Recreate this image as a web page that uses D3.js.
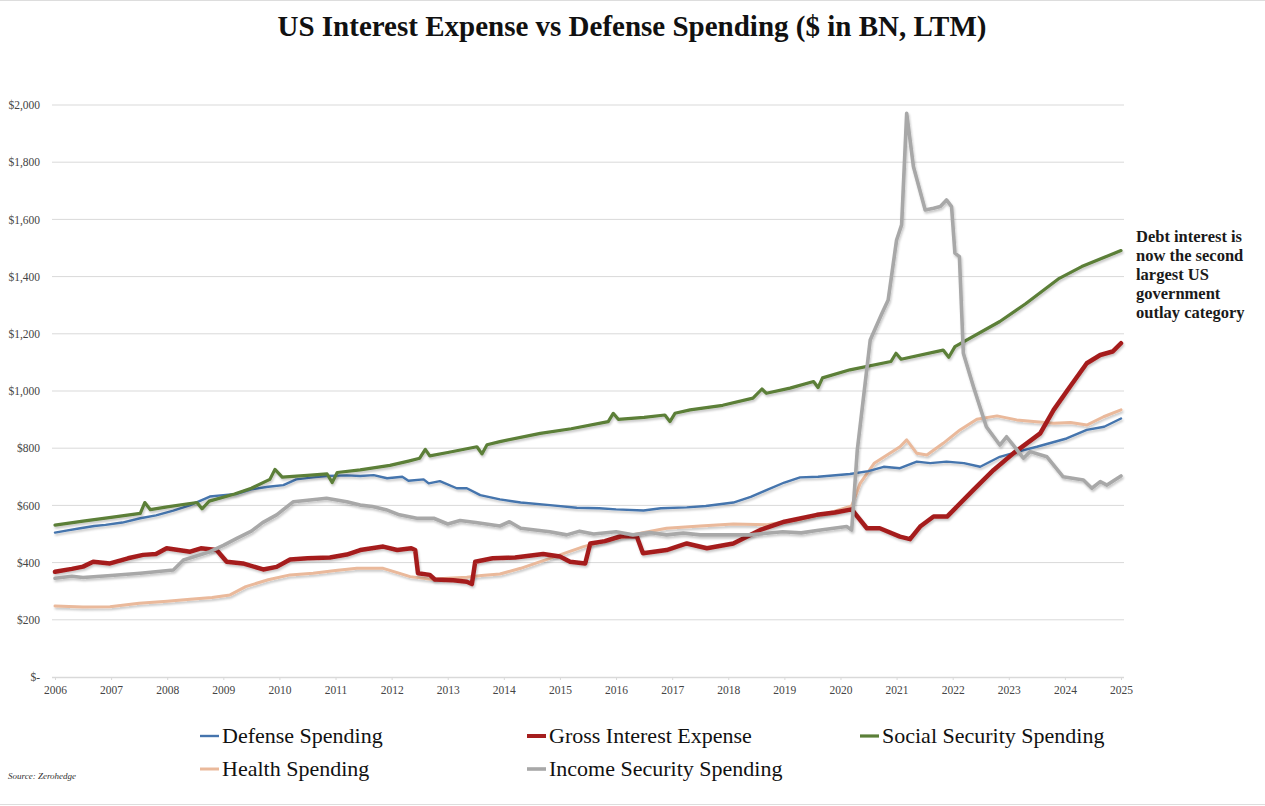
<!DOCTYPE html>
<html>
<head>
<meta charset="utf-8">
<script src="https://cdn.jsdelivr.net/npm/d3@7"></script>
<style>
    body { margin: 0; background: #fff; }
    svg { display: block; font-family: "Liberation Serif", "DejaVu Serif", serif; }
</style>
</head>
<body>
<svg id="chart" width="1265" height="806"></svg>
<script>
// Valeurs ([année, $ BN])
const defenseSpending = [
    [2006.0, 505], [2006.2, 512], [2006.45, 520], [2006.7, 528], [2006.9, 532], [2007.2, 540],
    [2007.52, 555], [2007.8, 565], [2008.11, 582], [2008.4, 600], [2008.76, 631], [2009.0, 636],
    [2009.24, 640], [2009.5, 656], [2009.8, 665], [2010.07, 671], [2010.3, 691], [2010.6, 698],
    [2010.84, 703], [2011.2, 705], [2011.44, 703], [2011.68, 706], [2011.92, 695], [2012.19, 700],
    [2012.3, 686], [2012.57, 691], [2012.66, 677], [2012.86, 685], [2013.16, 660], [2013.34, 660],
    [2013.58, 636], [2013.93, 621], [2014.3, 610], [2014.82, 601], [2015.3, 592], [2015.7, 590],
    [2016.0, 586], [2016.49, 582], [2016.8, 590], [2017.26, 593], [2017.6, 598], [2018.09, 610],
    [2018.4, 630], [2018.69, 654], [2019.0, 680], [2019.28, 698], [2019.6, 700], [2020.17, 710],
    [2020.5, 720], [2020.77, 735], [2021.06, 730], [2021.36, 753], [2021.6, 748], [2021.89, 753],
    [2022.2, 748], [2022.49, 735], [2022.84, 770], [2023.2, 790], [2023.5, 805], [2024.03, 834],
    [2024.39, 864], [2024.7, 875], [2025.0, 904]
]

const grossInterestExpense = [
    [2006.0, 368], [2006.3, 378], [2006.5, 386], [2006.68, 403], [2006.98, 397], [2007.3, 415],
    [2007.57, 427], [2007.8, 430], [2007.99, 450], [2008.2, 444], [2008.41, 438], [2008.6, 450],
    [2008.88, 444], [2009.06, 403], [2009.35, 397], [2009.71, 376], [2009.95, 385], [2010.19, 411],
    [2010.5, 415], [2010.9, 418], [2011.2, 428], [2011.44, 444], [2011.85, 456], [2012.1, 444],
    [2012.35, 450], [2012.42, 444], [2012.47, 363], [2012.68, 357], [2012.77, 341], [2013.1, 338],
    [2013.34, 333], [2013.43, 325], [2013.49, 403], [2013.8, 415], [2014.2, 418], [2014.7, 430],
    [2015.0, 421], [2015.18, 403], [2015.45, 397], [2015.54, 467], [2015.8, 475], [2016.1, 493],
    [2016.37, 491], [2016.48, 433], [2016.9, 444], [2017.26, 467], [2017.62, 450], [2018.09, 467],
    [2018.57, 514], [2019.0, 543], [2019.58, 567], [2019.9, 575], [2020.2, 586], [2020.47, 520],
    [2020.7, 520], [2021.06, 491], [2021.24, 482], [2021.42, 526], [2021.66, 561], [2021.9, 561],
    [2022.37, 654], [2022.73, 724], [2023.08, 782], [2023.32, 817], [2023.56, 852], [2023.8, 934],
    [2024.09, 1015], [2024.39, 1097], [2024.63, 1126], [2024.85, 1138], [2025.0, 1167]
]

const socialSecuritySpending = [
    [2006.0, 531], [2006.5, 545], [2007.0, 558], [2007.52, 572], [2007.6, 610], [2007.7, 585],
    [2008.0, 595], [2008.53, 610], [2008.62, 588], [2008.75, 615], [2009.2, 640], [2009.5, 660],
    [2009.83, 691], [2009.92, 726], [2010.05, 699], [2010.5, 705], [2010.85, 710], [2010.94, 680],
    [2011.03, 715], [2011.44, 724], [2011.97, 740], [2012.3, 755], [2012.5, 765], [2012.6, 796],
    [2012.68, 773], [2013.0, 785], [2013.52, 805], [2013.61, 780], [2013.7, 812], [2013.93, 823],
    [2014.65, 852], [2015.2, 868], [2015.86, 893], [2015.95, 922], [2016.04, 901], [2016.5, 908],
    [2016.87, 916], [2016.96, 893], [2017.05, 922], [2017.32, 934], [2017.9, 950], [2018.44, 975],
    [2018.6, 1007], [2018.68, 992], [2019.1, 1010], [2019.52, 1033], [2019.6, 1012], [2019.68, 1046],
    [2020.17, 1074], [2020.9, 1103], [2020.99, 1132], [2021.08, 1111], [2021.83, 1143], [2021.93, 1118],
    [2022.04, 1155], [2022.84, 1243], [2023.3, 1305], [2023.9, 1394], [2024.3, 1435], [2025.0, 1491]
]

const healthSpending = [
    [2006.0, 248], [2006.5, 245], [2006.98, 246], [2007.5, 258], [2008.0, 265], [2008.41, 272],
    [2008.8, 278], [2009.12, 287], [2009.4, 316], [2009.8, 340], [2010.19, 357], [2010.6, 363],
    [2011.0, 372], [2011.38, 380], [2011.85, 380], [2012.1, 365], [2012.33, 351], [2012.7, 342],
    [2013.0, 345], [2013.34, 349], [2013.6, 355], [2013.93, 360], [2014.3, 380], [2014.82, 415],
    [2015.42, 456], [2016.01, 485], [2016.5, 505], [2016.9, 520], [2017.5, 528], [2018.09, 535],
    [2018.69, 532], [2019.28, 551], [2019.87, 578], [2020.2, 598], [2020.35, 677], [2020.6, 747],
    [2021.06, 805], [2021.18, 829], [2021.36, 782], [2021.54, 776], [2021.83, 817], [2022.13, 864],
    [2022.43, 901], [2022.79, 913], [2023.14, 899], [2023.44, 893], [2023.8, 887], [2024.1, 890],
    [2024.39, 881], [2024.69, 910], [2025.0, 934]
]

const incomeSecuritySpending = [
    [2006.0, 345], [2006.3, 352], [2006.5, 348], [2007.0, 355], [2007.52, 363], [2008.11, 374],
    [2008.29, 409], [2008.76, 438], [2009.0, 460], [2009.24, 485], [2009.5, 510], [2009.7, 540],
    [2009.95, 567], [2010.25, 613], [2010.84, 625], [2011.2, 613], [2011.44, 601], [2011.66, 596],
    [2011.9, 585], [2012.14, 567], [2012.45, 555], [2012.75, 555], [2013.0, 535], [2013.22, 547],
    [2013.5, 540], [2013.93, 528], [2014.1, 543], [2014.3, 520], [2014.82, 508], [2015.12, 497],
    [2015.35, 510], [2015.6, 500], [2016.0, 508], [2016.3, 497], [2016.6, 505], [2016.9, 497],
    [2017.2, 503], [2017.5, 497], [2018.39, 497], [2018.97, 508], [2019.3, 504], [2019.58, 512],
    [2020.11, 526], [2020.2, 514], [2020.3, 794], [2020.44, 1027], [2020.53, 1178], [2020.74, 1272],
    [2020.85, 1318], [2021.0, 1528], [2021.09, 1581], [2021.18, 1971], [2021.3, 1785], [2021.51, 1633],
    [2021.66, 1639], [2021.78, 1645], [2021.89, 1668], [2021.98, 1645], [2022.04, 1482], [2022.12, 1470],
    [2022.19, 1132], [2022.37, 1015], [2022.6, 875], [2022.84, 811], [2022.96, 840], [2023.08, 811],
    [2023.26, 765], [2023.38, 788], [2023.68, 770], [2023.97, 700], [2024.33, 689], [2024.48, 660],
    [2024.63, 683], [2024.75, 671], [2024.93, 694], [2025.0, 703]
]

const yearTicks = d3.range(2006, 2026)
const valueTicks = [0, 200, 400, 600, 800, 1000, 1200, 1400, 1600, 1800, 2000]

const annotationLines = ["Debt interest is", "now the second", "largest US", "government", "outlay category"]

// Ordre de dessin (le gris passe au-dessus)
const series = [
    {name: "Health Spending", data: healthSpending, color: "#eab99b", width: 3},
    {name: "Defense Spending", data: defenseSpending, color: "#4574ad", width: 2.4},
    {name: "Social Security Spending", data: socialSecuritySpending, color: "#5b7f38", width: 3.2},
    {name: "Gross Interest Expense", data: grossInterestExpense, color: "#a51e1e", width: 4.5},
    {name: "Income Security Spending", data: incomeSecuritySpending, color: "#a8a8a8", width: 3.6}
]

const legendItems = [
    {name: "Defense Spending", col: 0, row: 0},
    {name: "Gross Interest Expense", col: 1, row: 0},
    {name: "Social Security Spending", col: 2, row: 0},
    {name: "Health Spending", col: 0, row: 1},
    {name: "Income Security Spending", col: 1, row: 1}
]

const svg = d3.select("#chart")

// cadre haut / bas
svg.append("line").attr("x1", 0).attr("x2", 1265).attr("y1", 0.5).attr("y2", 0.5).attr("stroke", "#ddd")
svg.append("line").attr("x1", 0).attr("x2", 1265).attr("y1", 804.5).attr("y2", 804.5).attr("stroke", "#ddd")

const defs = svg.append("defs")
defs.append("filter")
    .attr("id", "shadow")
    .attr("x", "-5%").attr("y", "-5%").attr("width", "110%").attr("height", "110%")
    .append("feDropShadow")
    .attr("dx", 1).attr("dy", 2)
    .attr("stdDeviation", 1.2)
    .attr("flood-color", "#000")
    .attr("flood-opacity", 0.22)

// Titre
svg.append("text")
   .attr("x", 632)
   .attr("y", 36)
   .attr("text-anchor", "middle")
   .attr("font-size", 29)
   .attr("font-weight", "bold")
   .attr("fill", "#111")
   .text("US Interest Expense vs Defense Spending ($ in BN, LTM)")

const x = d3.scaleLinear()
            .domain([2006, 2025])
            .range([55, 1121])

const y = d3.scaleLinear()
            .domain([0, 2000])
            .range([677, 105])

// Grille horizontale
svg.append("g")
   .selectAll("line")
   .data(valueTicks.filter(v => v > 0))
   .join("line")
   .attr("x1", 52)
   .attr("x2", 1124)
   .attr("y1", d => y(d))
   .attr("y2", d => y(d))
   .attr("stroke", "#d9d9d9")
   .attr("stroke-width", 1)

// Axe Y
const yAxis = svg.append("g")
   .attr("transform", "translate(52, 0)")
   .call(d3.axisLeft(y)
           .tickValues(valueTicks)
           .tickSize(0)
           .tickPadding(12)
           .tickFormat(d => d === 0 ? "$-" : "$" + d3.format(",")(d)))
yAxis.select(".domain").remove()
yAxis.selectAll("text")
     .attr("font-family", "Liberation Serif, serif")
     .attr("font-size", 11.5)
     .attr("fill", "#444")

// Axe X
const xAxis = svg.append("g")
   .attr("transform", "translate(0, 677)")
   .call(d3.axisBottom(x)
           .tickValues(yearTicks)
           .tickSize(3)
           .tickPadding(6)
           .tickFormat(d3.format("d")))
xAxis.select(".domain")
     .attr("d", "M52,0.5H1124")
     .attr("stroke", "#d9d9d9")
     .attr("stroke-width", 1.5)
xAxis.selectAll(".tick line").attr("stroke", "#d9d9d9")
xAxis.selectAll("text")
     .attr("font-family", "Liberation Serif, serif")
     .attr("font-size", 11.5)
     .attr("fill", "#444")

// Courbes
const line = d3.line()
               .x(d => x(d[0]))
               .y(d => y(d[1]))

svg.append("g")
   .selectAll("path")
   .data(series)
   .join("path")
   .attr("d", d => line(d.data))
   .attr("fill", "none")
   .attr("stroke", d => d.color)
   .attr("stroke-width", d => d.width)
   .attr("stroke-linejoin", "round")
   .attr("stroke-linecap", "round")
   .attr("filter", "url(#shadow)")

// Annotation à droite
svg.append("text")
   .attr("x", 1136)
   .attr("y", 242)
   .attr("font-size", 16.5)
   .attr("font-weight", "bold")
   .attr("fill", "#1a1a1a")
   .selectAll("tspan")
   .data(annotationLines)
   .join("tspan")
   .attr("x", 1136)
   .attr("dy", (d, i) => i === 0 ? 0 : 19)
   .text(d => d)

// Légende
const legendX = [200, 527, 860]
const legendY = [736, 769]
const legend = svg.append("g")
                  .selectAll("g")
                  .data(legendItems)
                  .join("g")
                  .attr("transform", d => `translate(${legendX[d.col]}, ${legendY[d.row]})`)

legend.append("line")
      .attr("x1", 0).attr("x2", 19)
      .attr("y1", 0).attr("y2", 0)
      .attr("stroke", d => series.find(s => s.name === d.name).color)
      .attr("stroke-width", d => Math.min(series.find(s => s.name === d.name).width, 4))

legend.append("text")
      .attr("x", 22)
      .attr("y", 7)
      .attr("font-size", 22)
      .attr("fill", "#111")
      .text(d => d.name)

// Source
svg.append("text")
   .attr("x", 8)
   .attr("y", 779)
   .attr("font-size", 9)
   .attr("font-style", "italic")
   .attr("fill", "#333")
   .text("Source: Zerohedge")
</script>
</body>
</html>
